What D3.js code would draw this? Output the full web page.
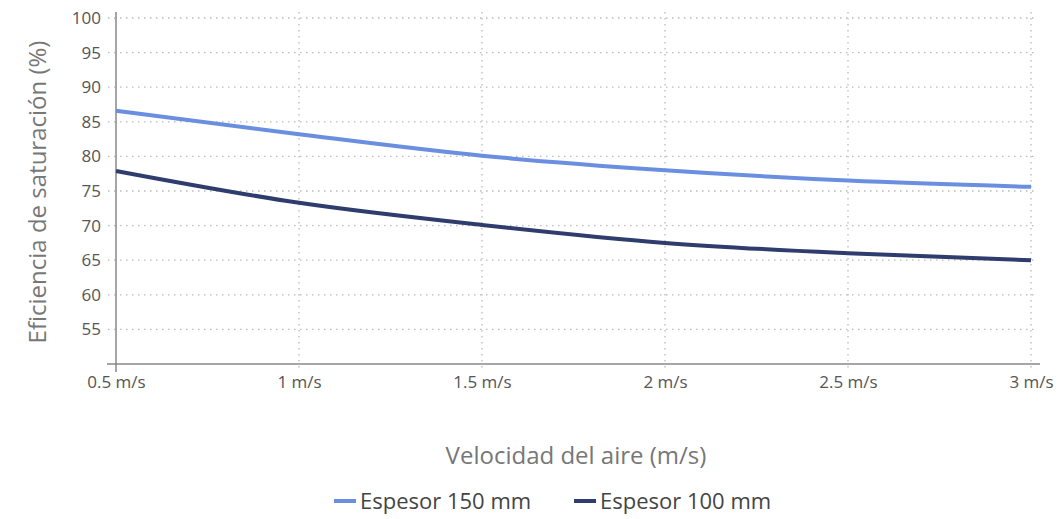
<!DOCTYPE html>
<html>
<head>
<meta charset="utf-8">
<script src="https://cdn.jsdelivr.net/npm/d3@7"></script>
<style>
  body { margin: 0; background: #fff; }
  text { font-family: "Open Sans", sans-serif; }
</style>
</head>
<body>
<div id="chart"></div>
<script>
var velocidades = [0.5, 1, 1.5, 2, 2.5, 3];
var espesor150 = [86.6, 83.2, 80.1, 78.0, 76.5, 75.6];
var espesor100 = [77.9, 73.3, 70.1, 67.5, 66.0, 65.0];
var xTicks = [0.5, 1, 1.5, 2, 2.5, 3];
var yTicks = [55, 60, 65, 70, 75, 80, 85, 90, 95, 100];
var seriesNames = ["Espesor 150 mm", "Espesor 100 mm"];
var seriesColors = ["#6a8fe0", "#2e3c6e"];

var width = 1061, height = 519,
    pLeft = 116, pRight = 1031, pTop = 18, pBottom = 364;

var svg = d3.select("#chart").append("svg")
    .attr("width", width)
    .attr("height", height);

var x = d3.scaleLinear().domain([0.5, 3]).range([pLeft, pRight]);
var y = d3.scaleLinear().domain([50, 100]).range([pBottom, pTop]);

// grid
svg.selectAll("line.hgrid")
  .data(yTicks)
  .enter().append("line")
    .attr("class", "hgrid")
    .attr("x1", pLeft - 8).attr("x2", pRight + 6)
    .attr("y1", function (d) { return y(d); })
    .attr("y2", function (d) { return y(d); })
    .attr("stroke", "#bbb")
    .attr("stroke-width", 1.3)
    .attr("stroke-dasharray", "1.5,4.5");

svg.selectAll("line.vgrid")
  .data(xTicks.slice(1))
  .enter().append("line")
    .attr("class", "vgrid")
    .attr("x1", function (d) { return x(d); })
    .attr("x2", function (d) { return x(d); })
    .attr("y1", pTop - 6).attr("y2", pBottom + 8)
    .attr("stroke", "#bbb")
    .attr("stroke-width", 1.3)
    .attr("stroke-dasharray", "1.5,4.5");

// axes
var yAxis = svg.append("g")
  .attr("transform", "translate(" + pLeft + ",0)")
  .call(d3.axisLeft(y).tickValues(yTicks).tickSize(0).tickPadding(15));
yAxis.select(".domain").remove();
yAxis.selectAll("text")
  .attr("fill", "#555")
  .style("font-size", "17px");

svg.append("line")
  .attr("x1", pLeft).attr("x2", pLeft)
  .attr("y1", pTop - 6).attr("y2", pBottom + 8)
  .attr("stroke", "#888")
  .attr("stroke-width", 1.5);

var xAxis = svg.append("g")
  .attr("transform", "translate(0," + pBottom + ")")
  .call(d3.axisBottom(x).tickValues(xTicks).tickSize(0).tickPadding(12)
    .tickFormat(function (d) { return d + " m/s"; }));
xAxis.select(".domain").remove();
xAxis.selectAll("text")
  .attr("fill", "#555")
  .style("font-size", "17px");

svg.append("line")
  .attr("x1", pLeft - 9).attr("x2", pRight + 9)
  .attr("y1", pBottom).attr("y2", pBottom)
  .attr("stroke", "#888")
  .attr("stroke-width", 1.5);

// lines
var line = d3.line()
  .x(function (d) { return x(d[0]); })
  .y(function (d) { return y(d[1]); })
  .curve(d3.curveMonotoneX);

[espesor150, espesor100].forEach(function (vals, i) {
  svg.append("path")
    .datum(velocidades.map(function (v, j) { return [v, vals[j]]; }))
    .attr("fill", "none")
    .attr("stroke", seriesColors[i])
    .attr("stroke-width", 4)
    .attr("d", line);
});

// titles
svg.append("text")
  .text("Velocidad del aire (m/s)")
  .attr("x", 576).attr("y", 464)
  .attr("text-anchor", "middle")
  .attr("fill", "#777")
  .style("font-size", "24px");

svg.append("text")
  .text("Eficiencia de saturación (%)")
  .attr("transform", "translate(46,192) rotate(-90)")
  .attr("text-anchor", "middle")
  .attr("fill", "#777")
  .style("font-size", "24px");

// legend
var legendX = [334, 574];
seriesNames.forEach(function (name, i) {
  svg.append("line")
    .attr("x1", legendX[i]).attr("x2", legendX[i] + 22)
    .attr("y1", 501).attr("y2", 501)
    .attr("stroke", seriesColors[i])
    .attr("stroke-width", 4);
  svg.append("text")
    .text(name)
    .attr("x", legendX[i] + 26).attr("y", 509)
    .attr("fill", "#444")
    .style("font-size", "22px");
});
</script>
</body>
</html>
